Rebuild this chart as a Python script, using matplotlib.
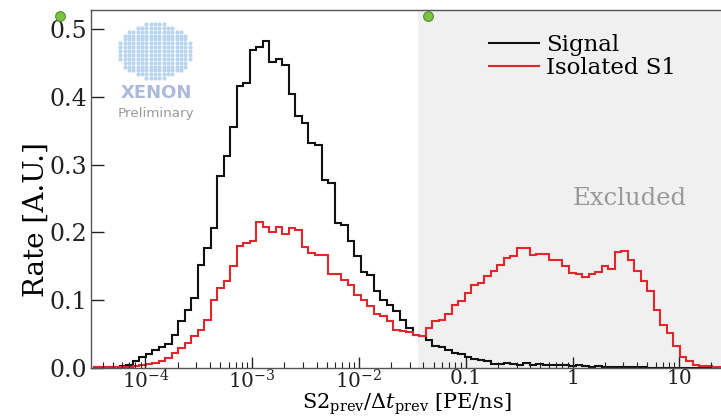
import numpy as np
import matplotlib
matplotlib.use("Agg")
import matplotlib.pyplot as plt
from matplotlib.lines import Line2D
from matplotlib.ticker import FixedLocator, FixedFormatter, LogLocator, NullFormatter

plt.rcParams["font.family"] = "DejaVu Serif"
plt.rcParams["mathtext.fontset"] = "dejavuserif"

# log-spaced bin edges of the two histograms
bin_edges = np.logspace(-4.486, 1.614, 101)

signal = [0.001, 0.001, 0.002, 0.002, 0.003, 0.005, 0.010, 0.016, 0.020, 0.026,
          0.031, 0.035, 0.048, 0.069, 0.086, 0.103, 0.152, 0.177, 0.206, 0.283,
          0.312, 0.355, 0.416, 0.420, 0.469, 0.474, 0.483, 0.451, 0.456, 0.447,
          0.404, 0.371, 0.361, 0.332, 0.329, 0.277, 0.273, 0.214, 0.211, 0.187,
          0.165, 0.142, 0.137, 0.114, 0.100, 0.093, 0.084, 0.071, 0.059, 0.049,
          0.047, 0.042, 0.033, 0.031, 0.027, 0.022, 0.020, 0.016, 0.013, 0.012,
          0.010, 0.006, 0.006, 0.007, 0.006, 0.005, 0.007, 0.005, 0.006, 0.004,
          0.005, 0.004, 0.004, 0.003, 0.004, 0.003, 0.002, 0.003, 0.002, 0.002,
          0.002, 0.001, 0.001, 0.001, 0.001, 0.0, 0.0, 0.0, 0.0, 0.0,
          0.0, 0.0, 0.0, 0.0, 0.0, 0.0, 0.0, 0.0, 0.0, 0.0]

isolated_s1 = [0.001, 0.001, 0.001, 0.001, 0.002, 0.002, 0.003, 0.005, 0.006, 0.008,
               0.011, 0.015, 0.022, 0.029, 0.037, 0.047, 0.056, 0.071, 0.100, 0.118,
               0.128, 0.150, 0.180, 0.184, 0.188, 0.215, 0.208, 0.201, 0.208, 0.198,
               0.207, 0.204, 0.178, 0.170, 0.167, 0.166, 0.139, 0.138, 0.130, 0.123,
               0.108, 0.101, 0.091, 0.079, 0.077, 0.069, 0.056, 0.055, 0.053, 0.049,
               0.047, 0.059, 0.069, 0.071, 0.080, 0.093, 0.099, 0.111, 0.122, 0.125,
               0.135, 0.143, 0.152, 0.162, 0.165, 0.177, 0.177, 0.166, 0.168, 0.168,
               0.159, 0.160, 0.151, 0.140, 0.139, 0.134, 0.138, 0.141, 0.150, 0.146,
               0.171, 0.172, 0.159, 0.143, 0.128, 0.114, 0.086, 0.064, 0.052, 0.032,
               0.016, 0.010, 0.005, 0.003, 0.003, 0.002, 0.002, 0.001, 0.001, 0.001]

tick_pos = [1e-4, 1e-3, 1e-2, 0.1, 1, 10]
tick_labels = [r"$10^{-4}$", r"$10^{-3}$", r"$10^{-2}$", "0.1", "1", "10"]
cut_value = 0.036

fig = plt.figure(figsize=(7.21, 4.17), dpi=100)
ax = fig.add_axes([91 / 721, 49 / 417, 631 / 721, 358 / 417])

ax.axvspan(cut_value, 100, color="#f0f0f0", zorder=0, lw=0)
ax.stairs(signal, bin_edges, color="#111111", lw=1.5, label="Signal")
ax.stairs(isolated_s1, bin_edges, color="#e3262b", lw=1.5, label="Isolated S1")

ax.set_xscale("log")
ax.set_xlim(10 ** -4.51, 10 ** 1.40)
ax.set_ylim(0, 0.528)

ax.xaxis.set_major_locator(FixedLocator(tick_pos))
ax.xaxis.set_major_formatter(FixedFormatter(tick_labels))
ax.xaxis.set_minor_locator(LogLocator(base=10, subs=np.arange(2, 10)))
ax.xaxis.set_minor_formatter(NullFormatter())
ax.tick_params(axis="x", which="major", direction="in", length=8, width=1.0,
               labelsize=14.5, pad=1, colors="#222222")
ax.tick_params(axis="x", which="minor", direction="in", length=4, width=0.8,
               colors="#222222")
ax.set_yticks([0.0, 0.1, 0.2, 0.3, 0.4, 0.5])
ax.set_yticklabels(["0.0", "0.1", "0.2", "0.3", "0.4", "0.5"])
ax.tick_params(axis="y", direction="in", length=9, width=1.0, labelsize=17,
               pad=3, colors="#222222")

for side in ["left", "bottom", "top"]:
    ax.spines[side].set_color("#555555")
    ax.spines[side].set_linewidth(1.0)
ax.spines["right"].set_visible(False)

ax.set_xlabel(r"S2$_\mathrm{prev}$/$\Delta t_\mathrm{prev}$ [PE/ns]",
              fontsize=15, labelpad=-1)
ax.set_ylabel("Rate [A.U.]", fontsize=20)
ax.yaxis.set_label_coords(-0.066, 0.415)

ax.text(3.4, 0.25, "Excluded", color="#999999", fontsize=17.5, ha="center",
        va="center")

ax.legend(loc="upper left", bbox_to_anchor=(0.598, 0.99), frameon=False,
          fontsize=16.5, handlelength=2.2, labelspacing=0.05, handletextpad=0.3)

# XENON logo (decoration)
logo = fig.add_axes([116 / 721, 1 - 82 / 417, 78 / 721, 62 / 417])
gx, gy = np.meshgrid(np.arange(-8, 9), np.arange(-7, 8))
inside = (gx / 8.4) ** 2 + (gy / 7.4) ** 2 <= 1
logo.scatter(gx[inside], gy[inside], s=9, color="#b9d5ef", lw=0)
logo.set_xlim(-9, 9)
logo.set_ylim(-8, 8)
logo.axis("off")
fig.text(156 / 721, 1 - 93 / 417, "XENON", fontsize=13, fontweight="bold",
         family="DejaVu Sans", color="#adbadb", ha="center", va="center")
fig.text(156 / 721, 1 - 113 / 417, "Preliminary", fontsize=9.7,
         family="DejaVu Sans", color="#9a9a9a", ha="center", va="center")

# green pointer dots from the original slide
for px in [60, 428]:
    fig.add_artist(Line2D([px / 721], [1 - 16 / 417], marker="o", ms=7,
                          color="#7cc242", mec="#4f8f2a", mew=0.8,
                          transform=fig.transFigure))

fig.savefig("out.png", dpi=100)
